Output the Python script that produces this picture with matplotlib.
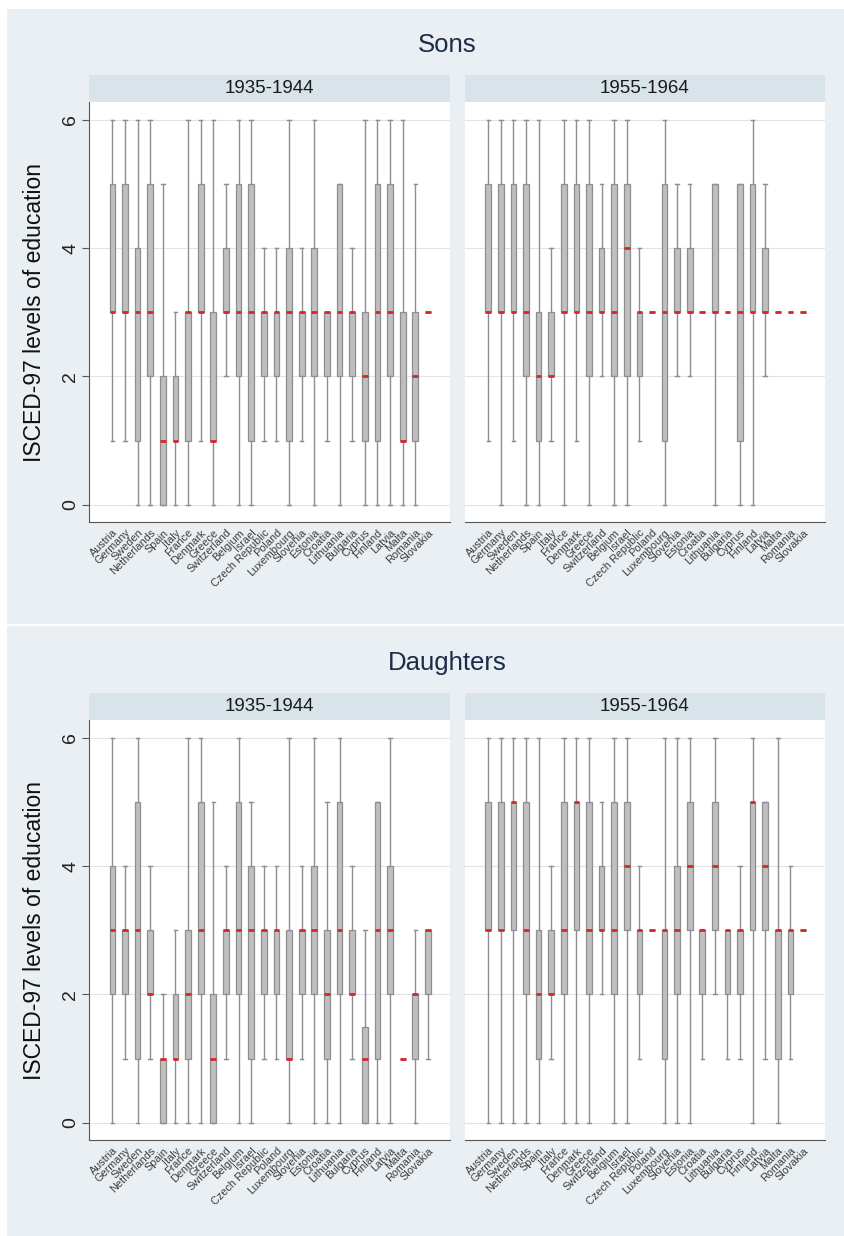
import matplotlib
matplotlib.use("Agg")
import matplotlib.pyplot as plt
from matplotlib.patches import Rectangle

plt.rcParams['font.family'] = ['Liberation Sans', 'DejaVu Sans']

W, H = 845, 1236

countries = ["Austria", "Germany", "Sweden", "Netherlands", "Spain", "Italy", "France",
             "Denmark", "Greece", "Switzerland", "Belgium", "Israel", "Czech Republic",
             "Poland", "Luxembourg", "Slovenia", "Estonia", "Croatia", "Lithuania",
             "Bulgaria", "Cyprus", "Finland", "Latvia", "Malta", "Romania", "Slovakia"]

# Sons, 1935-1944
sons_a_lo  = [1, 1, 0, 0, 0, 0, 0, 1, 0, 2, 0, 0, 1, 1, 0, 1, 0, 1, 0, 1, 0, 0, 0, 0, 0, 3]
sons_a_q1  = [3, 3, 1, 2, 0, 1, 1, 3, 1, 3, 2, 1, 2, 2, 1, 2, 2, 2, 2, 2, 1, 1, 2, 1, 1, 3]
sons_a_med = [3, 3, 3, 3, 1, 1, 3, 3, 1, 3, 3, 3, 3, 3, 3, 3, 3, 3, 3, 3, 2, 3, 3, 1, 2, 3]
sons_a_q3  = [5, 5, 4, 5, 2, 2, 3, 5, 3, 4, 5, 5, 3, 3, 4, 3, 4, 3, 5, 3, 3, 5, 5, 3, 3, 3]
sons_a_hi  = [6, 6, 6, 6, 5, 3, 6, 6, 6, 5, 6, 6, 4, 4, 6, 4, 6, 3, 5, 4, 6, 6, 6, 6, 5, 3]

# Sons, 1955-1964
sons_b_lo  = [1, 0, 1, 0, 0, 1, 0, 1, 0, 2, 0, 0, 1, 3, 0, 2, 2, 3, 0, 3, 0, 0, 2, 3, 3, 3]
sons_b_q1  = [3, 3, 3, 2, 1, 2, 3, 3, 2, 3, 2, 2, 2, 3, 1, 3, 3, 3, 3, 3, 1, 3, 3, 3, 3, 3]
sons_b_med = [3, 3, 3, 3, 2, 2, 3, 3, 3, 3, 3, 4, 3, 3, 3, 3, 3, 3, 3, 3, 3, 3, 3, 3, 3, 3]
sons_b_q3  = [5, 5, 5, 5, 3, 3, 5, 5, 5, 4, 5, 5, 3, 3, 5, 4, 4, 3, 5, 3, 5, 5, 4, 3, 3, 3]
sons_b_hi  = [6, 6, 6, 6, 6, 4, 6, 6, 6, 5, 6, 6, 4, 3, 6, 5, 5, 3, 5, 3, 5, 6, 5, 3, 3, 3]

# Daughters, 1935-1944
dau_a_lo  = [0, 1, 0, 1, 0, 0, 0, 0, 0, 1, 0, 0, 1, 1, 0, 1, 0, 0, 0, 1, 0, 0, 0, 1, 0, 1]
dau_a_q1  = [2, 2, 1, 2, 0, 1, 1, 2, 0, 2, 2, 1, 2, 2, 1, 2, 2, 1, 2, 2, 0, 1, 2, 1, 1, 2]
dau_a_med = [3, 3, 3, 2, 1, 1, 2, 3, 1, 3, 3, 3, 3, 3, 1, 3, 3, 2, 3, 2, 1, 3, 3, 1, 2, 3]
dau_a_q3  = [4, 3, 5, 3, 1, 2, 3, 5, 2, 3, 5, 4, 3, 3, 3, 3, 4, 3, 5, 3, 1.5, 5, 4, 1, 2, 3]
dau_a_hi  = [6, 4, 6, 4, 2, 3, 6, 6, 5, 4, 6, 5, 4, 4, 6, 4, 6, 5, 6, 4, 3, 5, 6, 1, 3, 3]

# Daughters, 1955-1964
dau_b_lo  = [0, 0, 0, 0, 0, 1, 0, 0, 0, 2, 0, 0, 1, 3, 0, 0, 0, 1, 2, 1, 1, 0, 1, 0, 1, 3]
dau_b_q1  = [3, 3, 3, 2, 1, 2, 2, 3, 2, 3, 2, 3, 2, 3, 1, 2, 3, 2, 3, 2, 2, 3, 3, 1, 2, 3]
dau_b_med = [3, 3, 5, 3, 2, 2, 3, 5, 3, 3, 3, 4, 3, 3, 3, 3, 4, 3, 4, 3, 3, 5, 4, 3, 3, 3]
dau_b_q3  = [5, 5, 5, 5, 3, 3, 5, 5, 5, 4, 5, 5, 3, 3, 3, 4, 5, 3, 5, 3, 3, 5, 5, 3, 3, 3]
dau_b_hi  = [6, 6, 6, 6, 6, 4, 6, 6, 6, 5, 6, 6, 4, 3, 6, 6, 6, 3, 6, 3, 4, 6, 5, 6, 4, 3]

groups = ["Sons", "Daughters"]
cohorts = ["1935-1944", "1955-1964"]
yticks = [0, 2, 4, 6]

BG = '#e9eff2'
STRIP = '#d8e4ea'


def frac(x0, y0, x1, y1):
    return [x0 / W, 1 - y1 / H, (x1 - x0) / W, (y1 - y0) / H]


def draw_panel(ax, lo, q1, med, q3, hi, left):
    stats = []
    for i in range(len(countries)):
        stats.append(dict(whislo=lo[i], q1=q1[i], med=med[i], q3=q3[i], whishi=hi[i], fliers=[]))
    pos = list(range(1, len(countries) + 1))
    ax.bxp(stats, positions=pos, widths=0.45, patch_artist=True, showfliers=False,
           manage_ticks=False, capwidths=0.28,
           boxprops=dict(facecolor='#bfbfbf', edgecolor='#8e8e8e', linewidth=0.9),
           whiskerprops=dict(color='#8e8e8e', linewidth=1.0),
           capprops=dict(color='#8e8e8e', linewidth=1.0),
           medianprops=dict(color='#d9242b', linewidth=2.0, solid_capstyle='butt'))
    ax.set_xlim(-0.85, 27.75)
    ax.set_ylim(-0.27, 6.28)
    ax.set_facecolor('white')
    ax.set_axisbelow(True)
    ax.yaxis.grid(True, color='#e3e3e3', linewidth=0.8)
    ax.set_yticks(yticks)
    ax.set_xticks(pos)
    ax.set_xticklabels(countries, rotation=45, ha='right', va='top', rotation_mode='anchor',
                       fontsize=7.8, color='#3c3c3c')
    ax.tick_params(axis='x', length=0, pad=4)
    for s in ['top', 'right']:
        ax.spines[s].set_visible(False)
    ax.spines['bottom'].set_color('#555555')
    if left:
        ax.spines['left'].set_color('#555555')
        ax.tick_params(axis='y', length=5, color='#555555', pad=2, labelsize=14, labelcolor='#222222')
        for t in ax.get_yticklabels():
            t.set_rotation(90)
            t.set_va('center')
        ax.set_ylabel("ISCED-97 levels of education", fontsize=16.5, color='#111111', labelpad=12)
    else:
        ax.spines['left'].set_visible(False)
        ax.tick_params(axis='y', length=0, labelleft=False)


fig = plt.figure(figsize=(W / 100, H / 100), dpi=100, facecolor='white')

# light background of the two stacked graphs
fig.add_artist(Rectangle((7 / W, (H - 624) / H), 1, (624 - 9) / H, transform=fig.transFigure,
                         facecolor=BG, edgecolor='none', zorder=0))
fig.add_artist(Rectangle((7 / W, 0), 1, (H - 626) / H, transform=fig.transFigure,
                         facecolor=BG, edgecolor='none', zorder=0))

panels = [
    (sons_a_lo, sons_a_q1, sons_a_med, sons_a_q3, sons_a_hi),
    (sons_b_lo, sons_b_q1, sons_b_med, sons_b_q3, sons_b_hi),
    (dau_a_lo, dau_a_q1, dau_a_med, dau_a_q3, dau_a_hi),
    (dau_b_lo, dau_b_q1, dau_b_med, dau_b_q3, dau_b_hi),
]
xspans = [(89, 450), (465, 825)]

for g, group in enumerate(groups):
    off = 618 * g
    fig.text(447 / W, 1 - (45 + off) / H, group, fontsize=18.5, color='#1c2b4a',
             ha='center', va='center')
    for c, cohort in enumerate(cohorts):
        x0, x1 = xspans[c]
        fig.add_artist(Rectangle((x0 / W, 1 - (102 + off) / H), (x1 - x0) / W, 27 / H,
                                 transform=fig.transFigure, facecolor=STRIP,
                                 edgecolor='none', zorder=1))
        fig.text((x0 + x1) / 2 / W, 1 - (88.5 + off) / H, cohort, fontsize=13.5,
                 color='#1a1a1a', ha='center', va='center')
        ax = fig.add_axes(frac(x0, 102 + off, x1, 522 + off))
        draw_panel(ax, *panels[2 * g + c], left=(c == 0))

fig.savefig("out.png", dpi=100, facecolor='white')
